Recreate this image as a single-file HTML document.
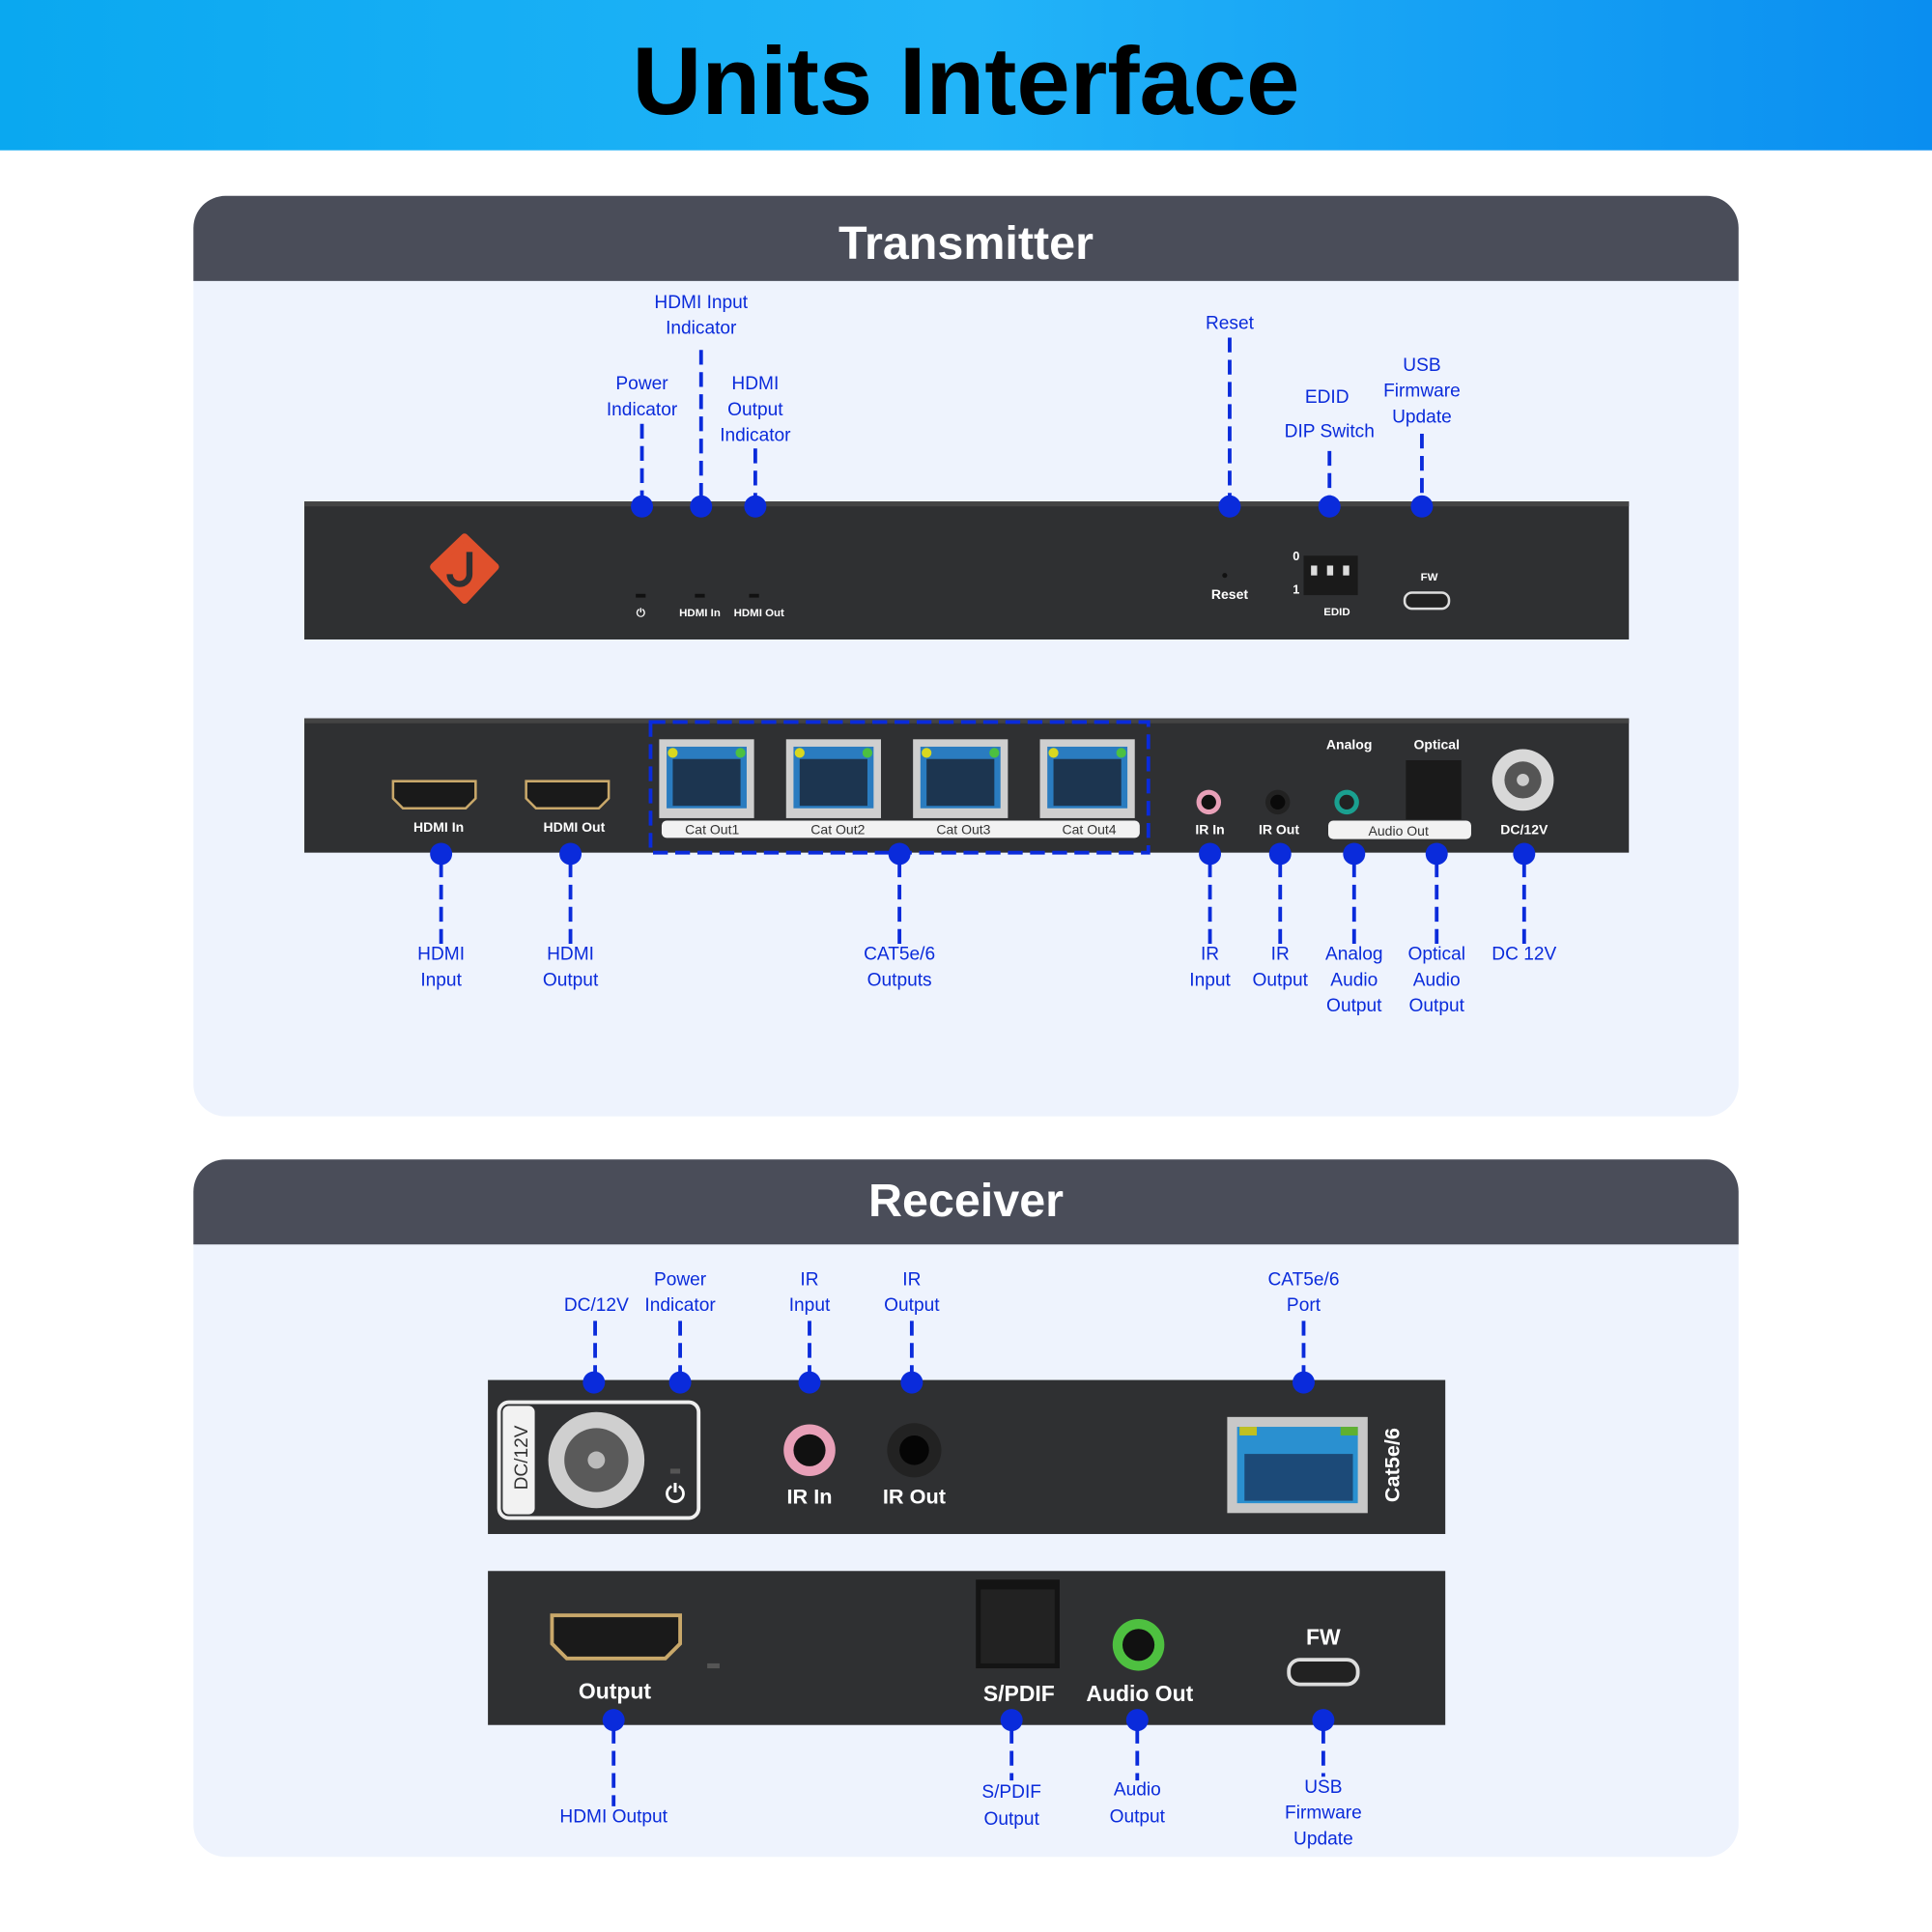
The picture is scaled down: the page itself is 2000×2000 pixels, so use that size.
<!DOCTYPE html>
<html><head><meta charset="utf-8"><style>
html,body{margin:0;padding:0;background:#fff;}
svg{display:block}
.l{font-family:"Liberation Sans Narrow","Liberation Sans",sans-serif;font-size:15px;fill:#0a2bdb;text-anchor:middle;dominant-baseline:middle}
.w{font-family:"Liberation Sans",sans-serif;font-weight:bold;fill:#fff;text-anchor:middle;dominant-baseline:middle}
.d{stroke:#0a2bdb;stroke-width:3;stroke-dasharray:12 6;fill:none}
.dot{fill:#0a2bdb}
</style></head><body>
<svg width="2000" height="2000" viewBox="0 0 1568 1568" xmlns="http://www.w3.org/2000/svg">
<defs>
<linearGradient id="hg" x1="0" y1="0" x2="1" y2="0"><stop offset="0" stop-color="#0aa8f0"/><stop offset="0.5" stop-color="#22b4f8"/><stop offset="1" stop-color="#0a8ef0"/></linearGradient>
</defs>
<rect width="1568" height="1568" fill="#fff"/>
<rect width="1568" height="122" fill="url(#hg)"/>
<text x="784" y="72" text-anchor="middle" dominant-baseline="middle" font-family="Liberation Sans,sans-serif" font-weight="bold" font-size="78" fill="#000">Units Interface</text>

<rect x="157" y="159" width="1254" height="747" rx="26" fill="#eef3fd"/>
<path d="M157 228 V185 a26 26 0 0 1 26 -26 H1385 a26 26 0 0 1 26 26 V228 Z" fill="#4a4d59"/>
<text x="784" y="200" class="w" font-size="38" font-family="Liberation Serif,serif">Transmitter</text>

<rect x="247" y="407" width="1075" height="112" fill="#2f3032"/>
<rect x="247" y="407" width="1075" height="4" fill="#444"/>
<path d="M377 436 L402 460 L377 487 L352 460 Z" fill="#e0502c" stroke="#e0502c" stroke-width="6" stroke-linejoin="round"/>
<path d="M381 448 V466 a8 8 0 0 1 -16 0" stroke="#2f3032" stroke-width="5" fill="none"/>
<rect x="516" y="482" width="8" height="3" fill="#111"/><rect x="564" y="482" width="8" height="3" fill="#111"/><rect x="608" y="482" width="8" height="3" fill="#111"/>
<text x="520" y="498" class="w" font-size="9">⏻</text>
<text x="568" y="498" class="w" font-size="9">HDMI In</text>
<text x="616" y="498" class="w" font-size="9">HDMI Out</text>
<circle cx="994" cy="467" r="2" fill="#111"/>
<text x="998" y="483" class="w" font-size="11">Reset</text>
<text x="1052" y="452" class="w" font-size="10">0</text><text x="1052" y="479" class="w" font-size="10">1</text>
<rect x="1058" y="451" width="44" height="32" fill="#1a1a1a"/>
<rect x="1064" y="459" width="5" height="8" fill="#ddd"/><rect x="1077" y="459" width="5" height="8" fill="#ddd"/><rect x="1090" y="459" width="5" height="8" fill="#ddd"/>
<text x="1085" y="497" class="w" font-size="9">EDID</text>
<text x="1160" y="469" class="w" font-size="9">FW</text>
<rect x="1140" y="481" width="36" height="13" rx="6" fill="#222" stroke="#ddd" stroke-width="2"/>

<rect x="247" y="583" width="1075" height="109" fill="#2f3032"/>
<rect x="247" y="583" width="1075" height="4" fill="#444"/>
<g fill="#1a1a1a" stroke="#c9a86a" stroke-width="2">
<path d="M319 634 H386 V648 L378 656 H327 L319 648 Z"/><path d="M427 634 H494 V648 L486 656 H435 L427 648 Z"/></g>
<text x="356" y="672" class="w" font-size="11">HDMI In</text>
<text x="466" y="672" class="w" font-size="11">HDMI Out</text>
<g>
<rect x="535" y="600" width="77" height="64" fill="#cfcfcf"/><rect x="541" y="606" width="65" height="50" fill="#2a7cc0"/><rect x="546" y="616" width="55" height="38" fill="#1c3550"/>
<rect x="638" y="600" width="77" height="64" fill="#cfcfcf"/><rect x="644" y="606" width="65" height="50" fill="#2a7cc0"/><rect x="649" y="616" width="55" height="38" fill="#1c3550"/>
<rect x="741" y="600" width="77" height="64" fill="#cfcfcf"/><rect x="747" y="606" width="65" height="50" fill="#2a7cc0"/><rect x="752" y="616" width="55" height="38" fill="#1c3550"/>
<rect x="844" y="600" width="77" height="64" fill="#cfcfcf"/><rect x="850" y="606" width="65" height="50" fill="#2a7cc0"/><rect x="855" y="616" width="55" height="38" fill="#1c3550"/>
</g>
<g fill="#d8d820"><circle cx="546" cy="611" r="4"/><circle cx="649" cy="611" r="4"/><circle cx="752" cy="611" r="4"/><circle cx="855" cy="611" r="4"/></g>
<g fill="#4cc040"><circle cx="601" cy="611" r="4"/><circle cx="704" cy="611" r="4"/><circle cx="807" cy="611" r="4"/><circle cx="910" cy="611" r="4"/></g>
<rect x="537" y="666" width="388" height="14" rx="4" fill="#f2f2f2"/>
<g font-family="Liberation Sans,sans-serif" font-size="11" fill="#333" text-anchor="middle"><text x="578" y="677">Cat Out1</text><text x="680" y="677">Cat Out2</text><text x="782" y="677">Cat Out3</text><text x="884" y="677">Cat Out4</text></g>
<rect x="528" y="586" width="404" height="106" class="d"/>
<circle cx="981" cy="651" r="10" fill="#e8a0b8"/><circle cx="981" cy="651" r="6" fill="#111"/>
<circle cx="1037" cy="651" r="10" fill="#222"/><circle cx="1037" cy="651" r="6" fill="#0a0a0a"/>
<circle cx="1093" cy="651" r="10" fill="#1aa090"/><circle cx="1093" cy="651" r="6" fill="#222"/>
<rect x="1141" y="617" width="45" height="48" fill="#1a1a1a"/>
<circle cx="1236" cy="633" r="25" fill="#d8d8d8"/><circle cx="1236" cy="633" r="15" fill="#555"/><circle cx="1236" cy="633" r="5" fill="#ccc"/>
<text x="1095" y="605" class="w" font-size="11">Analog</text>
<text x="1166" y="605" class="w" font-size="11">Optical</text>
<text x="982" y="674" class="w" font-size="11">IR In</text>
<text x="1038" y="674" class="w" font-size="11">IR Out</text>
<rect x="1078" y="666" width="116" height="15" rx="4" fill="#f2f2f2"/>
<text x="1135" y="678" text-anchor="middle" font-family="Liberation Sans,sans-serif" font-size="11" fill="#333">Audio Out</text>
<text x="1237" y="674" class="w" font-size="11">DC/12V</text>

<g class="d"><path d="M521 344V405M569 284V405M613 364V405M998 274V405M1079 366V405M1154 352V405"/>
<path d="M358 700V766M463 700V766M730 700V766M982 700V766M1039 700V766M1099 700V766M1166 700V766M1237 700V766"/></g>
<g class="dot"><circle cx="521" cy="411" r="9"/><circle cx="569" cy="411" r="9"/><circle cx="613" cy="411" r="9"/><circle cx="998" cy="411" r="9"/><circle cx="1079" cy="411" r="9"/><circle cx="1154" cy="411" r="9"/>
<circle cx="358" cy="693" r="9"/><circle cx="463" cy="693" r="9"/><circle cx="730" cy="693" r="9"/><circle cx="982" cy="693" r="9"/><circle cx="1039" cy="693" r="9"/><circle cx="1099" cy="693" r="9"/><circle cx="1166" cy="693" r="9"/><circle cx="1237" cy="693" r="9"/></g>
<g class="l">
<text x="521" y="312">Power</text><text x="521" y="333">Indicator</text>
<text x="569" y="246">HDMI Input</text><text x="569" y="267">Indicator</text>
<text x="613" y="312">HDMI</text><text x="613" y="333">Output</text><text x="613" y="354">Indicator</text>
<text x="998" y="263">Reset</text>
<text x="1077" y="323">EDID</text><text x="1079" y="351">DIP Switch</text>
<text x="1154" y="297">USB</text><text x="1154" y="318">Firmware</text><text x="1154" y="339">Update</text>
<text x="358" y="775">HDMI</text><text x="358" y="796">Input</text>
<text x="463" y="775">HDMI</text><text x="463" y="796">Output</text>
<text x="730" y="775">CAT5e/6</text><text x="730" y="796">Outputs</text>
<text x="982" y="775">IR</text><text x="982" y="796">Input</text>
<text x="1039" y="775">IR</text><text x="1039" y="796">Output</text>
<text x="1099" y="775">Analog</text><text x="1099" y="796">Audio</text><text x="1099" y="817">Output</text>
<text x="1166" y="775">Optical</text><text x="1166" y="796">Audio</text><text x="1166" y="817">Output</text>
<text x="1237" y="775">DC 12V</text>
</g>

<rect x="157" y="941" width="1254" height="566" rx="26" fill="#eef3fd"/>
<path d="M157 1010 V967 a26 26 0 0 1 26 -26 H1385 a26 26 0 0 1 26 26 V1010 Z" fill="#4a4d59"/>
<text x="784" y="977" class="w" font-size="38" font-family="Liberation Serif,serif">Receiver</text>

<rect x="396" y="1120" width="777" height="125" fill="#2f3032"/>
<rect x="405" y="1138" width="162" height="94" rx="8" fill="#2f3032" stroke="#eee" stroke-width="3"/>
<rect x="408" y="1141" width="26" height="88" rx="5" fill="#f2f2f2"/>
<text x="424" y="1183" font-family="Liberation Sans,sans-serif" font-size="15" fill="#333" text-anchor="middle" dominant-baseline="middle" transform="rotate(-90 424 1183)">DC/12V</text>
<circle cx="484" cy="1185" r="39" fill="#cfcfcf"/><circle cx="484" cy="1185" r="26" fill="#5a5a5a"/><circle cx="484" cy="1185" r="7" fill="#bbb"/>
<rect x="544" y="1192" width="8" height="4" fill="#555"/>
<text x="548" y="1214" class="w" font-size="20" font-weight="normal">⏻</text>
<circle cx="657" cy="1177" r="21" fill="#e8a0b8"/><circle cx="657" cy="1177" r="13" fill="#111"/>
<circle cx="742" cy="1177" r="22" fill="#222"/><circle cx="742" cy="1177" r="12" fill="#050505"/>
<text x="657" y="1216" class="w" font-size="17">IR In</text>
<text x="742" y="1216" class="w" font-size="17">IR Out</text>
<rect x="996" y="1150" width="114" height="78" fill="#c8c8c8"/><rect x="1004" y="1158" width="98" height="62" fill="#2a90d0"/><rect x="1010" y="1180" width="88" height="38" fill="#1c4a78"/>
<rect x="1006" y="1158" width="14" height="7" fill="#c0c020"/><rect x="1088" y="1158" width="14" height="7" fill="#60b030"/>
<text x="1131" y="1189" class="w" font-size="17" transform="rotate(-90 1131 1189)">Cat5e/6</text>

<rect x="396" y="1275" width="777" height="125" fill="#2f3032"/>
<path d="M448 1311 H552 V1334 L540 1346 H460 L448 1334 Z" fill="#1a1a1a" stroke="#c9a86a" stroke-width="3"/>
<rect x="574" y="1350" width="10" height="4" fill="#555"/>
<text x="499" y="1374" class="w" font-size="18">Output</text>
<rect x="792" y="1282" width="68" height="72" fill="#141414"/><rect x="796" y="1290" width="60" height="60" fill="#222"/>
<circle cx="924" cy="1335" r="21" fill="#4ec040"/><circle cx="924" cy="1335" r="13" fill="#111"/>
<text x="827" y="1376" class="w" font-size="18">S/PDIF</text>
<text x="925" y="1376" class="w" font-size="18">Audio Out</text>
<text x="1074" y="1330" class="w" font-size="18">FW</text>
<rect x="1046" y="1347" width="56" height="20" rx="9" fill="#222" stroke="#ddd" stroke-width="3"/>

<g class="d"><path d="M483 1072V1115M552 1072V1115M657 1072V1115M740 1072V1115M1058 1072V1115"/>
<path d="M498 1403V1466M821 1403V1445M923 1403V1445M1074 1403V1442"/></g>
<g class="dot"><circle cx="482" cy="1122" r="9"/><circle cx="552" cy="1122" r="9"/><circle cx="657" cy="1122" r="9"/><circle cx="740" cy="1122" r="9"/><circle cx="1058" cy="1122" r="9"/>
<circle cx="498" cy="1396" r="9"/><circle cx="821" cy="1396" r="9"/><circle cx="923" cy="1396" r="9"/><circle cx="1074" cy="1396" r="9"/></g>
<g class="l">
<text x="484" y="1060">DC/12V</text>
<text x="552" y="1039">Power</text><text x="552" y="1060">Indicator</text>
<text x="657" y="1039">IR</text><text x="657" y="1060">Input</text>
<text x="740" y="1039">IR</text><text x="740" y="1060">Output</text>
<text x="1058" y="1039">CAT5e/6</text><text x="1058" y="1060">Port</text>
<text x="498" y="1475">HDMI Output</text>
<text x="821" y="1455">S/PDIF</text><text x="821" y="1477">Output</text>
<text x="923" y="1453">Audio</text><text x="923" y="1475">Output</text>
<text x="1074" y="1451">USB</text><text x="1074" y="1472">Firmware</text><text x="1074" y="1493">Update</text>
</g>
</svg>
</body></html>
